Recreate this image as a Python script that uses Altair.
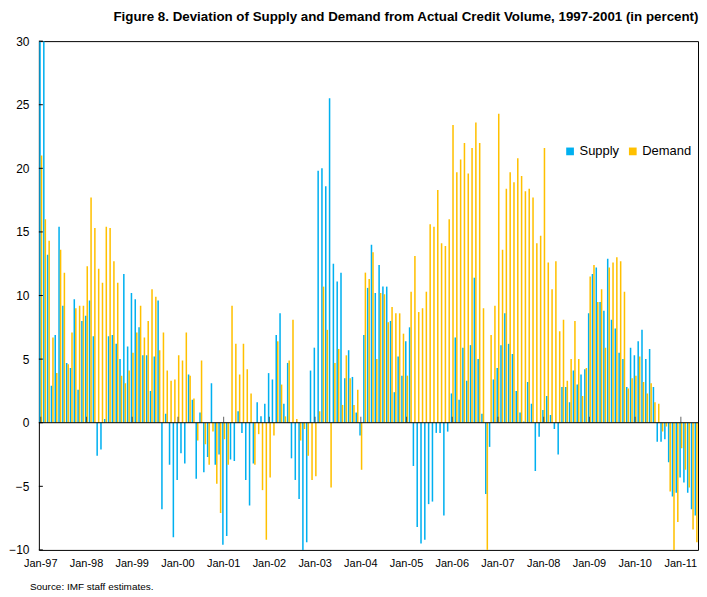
import altair as alt
import pandas as pd

FONT = "Liberation Sans"

month_abbr = ["Jan", "Feb", "Mar", "Apr", "May", "Jun",
              "Jul", "Aug", "Sep", "Oct", "Nov", "Dec"]
years = list(range(1997, 2012))
months = [f"{m}-{str(y)[2:]}" for y in years for m in month_abbr][:173]

supply = [
    32.0, 31.0, 13.2, 2.9, 6.9, 15.4, 9.2, 4.7, 4.3, 9.7, 2.6, 8.0,
    8.4, 9.6, 6.8, -2.6, -2.1, 0.3, 6.8, 6.9, 6.2, 5.0, 11.7, 6.0,
    10.2, 9.7, 7.5, 5.3, 5.3, 2.5, 5.2, 9.6, -6.8, 0.7, -3.3, -9.0,
    -4.5, -2.4, -3.2, 3.8, 1.8, -4.4, 0.8, -3.9, -2.7, 3.1, -3.3, -2.5,
    -9.6, -8.9, -2.9, -3.0, 0.9, -0.8, -4.5, -6.5, -3.2, 1.6, 0.5, 1.5,
    3.9, 3.4, 6.9, 8.6, 1.5, 4.7, -2.8, -4.5, -6.0, -10.5, -9.4, 4.1,
    5.9, 19.8, 20.0, 18.6, 25.5, 12.5, 11.1, 11.8, 3.5, 5.7, 3.6, 0.8,
    -1.0, 6.9, 10.6, 14.0, 10.2, 12.4, 10.7, 10.7, 8.0, 2.4, 5.2, 3.7,
    6.4, 7.5, -3.4, -8.2, -9.5, -9.2, -6.4, -6.2, -0.8, -0.8, -7.3, -0.7,
    2.3, 6.7, 1.8, 5.9, 3.3, 6.1, 11.4, 5.0, 0.7, -5.6, -1.9, 3.4,
    4.3, 6.1, 8.6, 6.2, 5.4, 2.5, 0.8, 0.1, 3.2, 1.5, -3.8, -1.1,
    1.0, 2.1, 0.6, -0.5, -2.5, 2.8, 2.8, 1.6, 4.1, 3.0, 3.8, 4.2,
    8.6, 11.7, 12.2, 9.5, 8.8, 12.9, 8.1, 7.4, 5.5, 5.0, 2.8, 5.9,
    5.3, 6.4, 7.3, 5.0, 5.8, 2.8, -1.5, -1.5, -1.3, -3.1, -5.8, -5.5,
    -4.3, -4.7, -5.5, -6.8, -7.3,
]

demand = [
    21.0, 16.0, 14.3, 6.7, 3.9, 13.6, 11.8, 4.6, 7.1, 9.0, 9.2, 9.2,
    12.3, 17.7, 15.3, 12.1, 11.0, 15.4, 15.3, 12.7, 11.0, 3.7, 3.1, 4.1,
    5.5, 7.1, 9.2, 6.7, 8.0, 10.5, 9.9, 5.7, 7.1, 4.1, 3.3, 3.4,
    5.3, 4.9, 7.1, 3.7, 1.9, -1.4, 4.9, -1.7, -3.3, -0.7, -4.8, -7.1,
    -1.3, -3.3, 9.2, 6.2, 3.8, 6.2, 4.2, 2.3, -3.3, -0.9, -5.3, -9.2,
    -4.3, -1.0, 6.4, 3.0, 0.5, 4.9, 8.1, 0.3, -1.4, -0.5, -2.6, -4.5,
    -4.2, 0.9, 10.7, 7.3, -5.1, 4.7, 5.8, 1.4, 5.3, 3.5, 1.4, 2.6,
    -3.7, 11.8, 11.3, 13.4, 5.0, 10.2, 10.1, 7.9, 9.1, 8.6, 8.6, 7.0,
    3.7, 10.3, 13.1, 8.7, 9.0, 10.3, 15.6, 15.4, 18.3, 14.1, 13.9, 16.0,
    23.4, 19.7, 20.7, 22.0, 19.6, 21.6, 23.6, 22.0, 9.0, -10.5, 6.9, 9.2,
    24.3, 13.6, 18.4, 19.7, 18.9, 20.8, 19.4, 18.2, 18.4, 17.7, 14.1, 14.7,
    21.6, 12.6, 10.5, 12.7, 7.2, 8.1, 3.3, 5.0, 8.0, 5.0, 2.1, 4.3,
    11.5, 12.4, 9.5, 10.5, 5.9, 12.2, 12.6, 13.0, 12.7, 10.3, 2.7, 3.5,
    3.7, 5.2, 3.2, 2.3, 3.1, 1.6, 1.5, -0.7, -0.3, -5.4, -10.5, -7.8,
    -2.0, -3.7, -5.1, -8.4, -9.4,
]

series_names = ["Supply", "Demand"]
series_colors = ["#00B0F0", "#FFC000"]
y_ticks = [-10, -5, 0, 5, 10, 15, 20, 25, 30]
jan_labels = [m for m in months if m.startswith("Jan")]

title_text = ("Figure 8. Deviation of Supply and Demand from Actual Credit Volume, "
              "1997-2001 (in percent)")
source_text = "Source:  IMF staff estimates."

n = len(months)
df = pd.DataFrame({
    "month": months * 2,
    "series": ["Supply"] * n + ["Demand"] * n,
    "value": supply + demand,
})
jan_df = pd.DataFrame({"month": jan_labels, "v": [0] * len(jan_labels)})
ytick_df = pd.DataFrame({"v": y_ticks})
zero_df = pd.DataFrame({"v": [0]})
src_df = pd.DataFrame({"t": [source_text]})

x_scale = alt.Scale(domain=months, paddingInner=0.2, paddingOuter=0.1)
y_scale = alt.Scale(domain=[-10, 30], nice=False, clamp=True)

x_axis = alt.Axis(values=jan_labels, title=None, ticks=False, domain=False,
                  labelAngle=0, labelPadding=8, labelFontSize=11, labelFont=FONT,
                  labelColor="black", labelOverlap=False, grid=False)
y_axis = alt.Axis(values=y_ticks, title=None, ticks=False, domain=False, grid=False,
                  labelFontSize=12, labelFont=FONT, labelColor="black",
                  labelPadding=10, minExtent=29, maxExtent=29)

bars = alt.Chart(df).mark_bar(clip=True).encode(
    x=alt.X("month:N", scale=x_scale, axis=x_axis, sort=months),
    xOffset=alt.XOffset("series:N", sort=series_names,
                        scale=alt.Scale(domain=series_names, paddingInner=0)),
    y=alt.Y("value:Q", scale=y_scale, axis=y_axis),
    color=alt.Color("series:N",
                    scale=alt.Scale(domain=series_names, range=series_colors),
                    legend=alt.Legend(title=None, orient="none", legendX=527, legendY=104,
                                      direction="horizontal", symbolType="square",
                                      symbolSize=60, symbolStrokeWidth=0,
                                      labelFontSize=13, labelFont=FONT,
                                      labelColor="black", labelOffset=3,
                                      columnPadding=7, padding=0)),
)

zero_rule = alt.Chart(zero_df).mark_rule(color="black", strokeWidth=1).encode(
    y=alt.Y("v:Q", scale=y_scale)
)

jan_ticks = alt.Chart(jan_df).mark_tick(orient="vertical", size=6, thickness=1,
                                        color="#222222", yOffset=-3).encode(
    x=alt.X("month:N", scale=x_scale, sort=months),
    y=alt.Y("v:Q", scale=y_scale),
)

y_tick_marks = alt.Chart(ytick_df).mark_rule(color="black", strokeWidth=1).encode(
    x=alt.value(0), x2=alt.value(4),
    y=alt.Y("v:Q", scale=y_scale),
)

source = alt.Chart(src_df).mark_text(align="left", baseline="middle", fontSize=10,
                                     font=FONT, color="black").encode(
    x=alt.value(-9), y=alt.value(548), text="t:N"
)

chart = alt.layer(bars, zero_rule, jan_ticks, y_tick_marks, source).properties(
    width=662, height=511, padding=0,
    title=alt.TitleParams(title_text, anchor="end", fontSize=13.4, font=FONT,
                          fontWeight="bold", color="black", offset=12),
).configure_view(stroke="black", strokeWidth=1)

chart.save("out.html", embed_options={"renderer": "svg", "actions": False})
